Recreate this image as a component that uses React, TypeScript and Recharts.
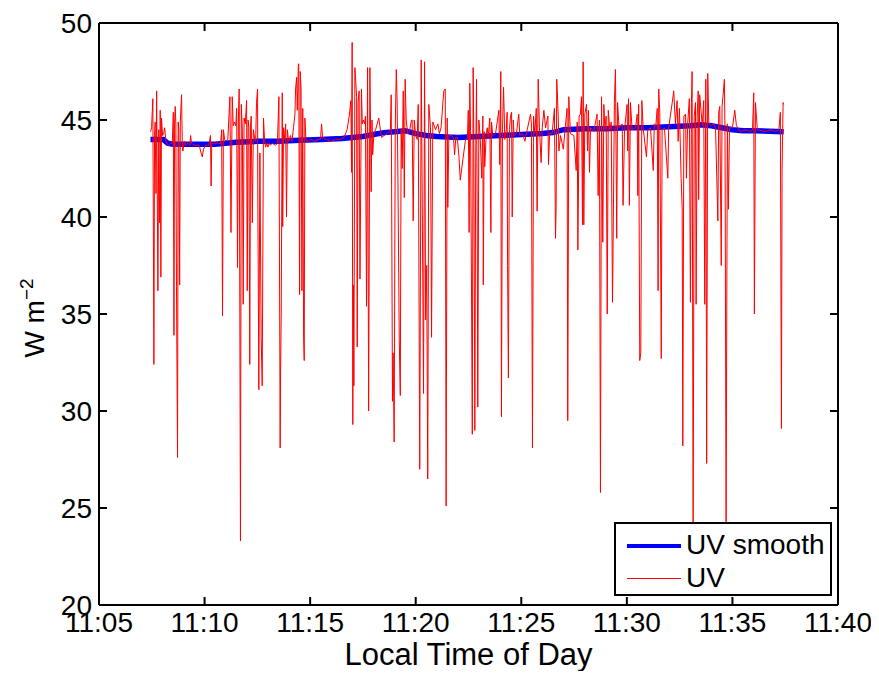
import React from "react";
import { LineChart, Line, XAxis, YAxis } from "recharts";

// Time in minutes after 11:00, value in W m^-2
const uvTime: number[] = [
  7.44, 7.49, 7.55, 7.6, 7.63, 7.66, 7.7, 7.73, 7.76, 7.79, 7.83, 7.87, 7.9, 7.93, 7.96, 8.01, 8.06, 8.11, 8.16, 8.2,
  8.3, 8.39, 8.47, 8.52, 8.55, 8.58, 8.61, 8.64, 8.67, 8.72, 8.75, 8.78, 8.82, 8.85, 8.91, 8.94, 8.97, 9.05, 9.1, 9.2,
  9.3, 9.34, 9.38, 9.5, 9.57, 9.75, 9.81, 9.89, 9.95, 10.05, 10.2, 10.28, 10.31, 10.34, 10.52, 10.65, 10.76, 10.81, 10.85, 10.89,
  10.95, 10.99, 11.1, 11.2, 11.25, 11.31, 11.36, 11.42, 11.48, 11.52, 11.56, 11.6, 11.64, 11.7, 11.74, 11.79, 11.83, 11.87, 11.93, 11.99,
  12.02, 12.06, 12.1, 12.14, 12.18, 12.21, 12.26, 12.31, 12.38, 12.42, 12.46, 12.51, 12.52, 12.57, 12.62, 12.68, 12.73, 12.79, 12.84, 12.89,
  12.95, 13.0, 13.06, 13.12, 13.2, 13.36, 13.45, 13.52, 13.58, 13.6, 13.63, 13.68, 13.7, 13.74, 13.8, 13.84, 13.88, 13.92, 13.98, 14.07,
  14.14, 14.21, 14.28, 14.31, 14.36, 14.39, 14.44, 14.46, 14.5, 14.53, 14.57, 14.61, 14.65, 14.69, 14.72, 14.75, 14.8, 14.84, 14.92, 15.05,
  15.2, 15.4, 15.49, 15.54, 15.59, 15.75, 15.97, 16.2, 16.44, 16.6, 16.75, 16.85, 16.93, 16.96, 16.99, 17.02, 17.05, 17.07, 17.12, 17.16,
  17.2, 17.23, 17.27, 17.32, 17.36, 17.43, 17.47, 17.52, 17.58, 17.62, 17.67, 17.72, 17.77, 17.83, 17.89, 17.93, 17.96, 18.02, 18.1, 18.25,
  18.38, 18.5, 18.65, 18.8, 18.84, 18.9, 18.93, 18.98, 19.03, 19.08, 19.12, 19.16, 19.22, 19.27, 19.31, 19.36, 19.41, 19.46, 19.5, 19.55,
  19.62, 19.7, 19.8, 19.83, 19.88, 19.93, 20.0, 20.07, 20.12, 20.19, 20.26, 20.31, 20.37, 20.42, 20.47, 20.52, 20.57, 20.62, 20.7, 20.75,
  20.81, 20.94, 21.05, 21.12, 21.2, 21.33, 21.4, 21.44, 21.49, 21.52, 21.57, 21.7, 21.79, 21.84, 21.9, 21.97, 22.05, 22.11, 22.25, 22.36,
  22.45, 22.49, 22.53, 22.56, 22.6, 22.68, 22.72, 22.75, 22.8, 22.84, 22.88, 22.91, 22.94, 22.99, 23.05, 23.13, 23.18, 23.2, 23.24, 23.27,
  23.34, 23.39, 23.43, 23.51, 23.56, 23.59, 23.65, 23.78, 23.94, 23.98, 24.03, 24.06, 24.11, 24.16, 24.22, 24.29, 24.33, 24.35, 24.39, 24.44,
  24.49, 24.54, 24.57, 24.62, 24.66, 24.77, 24.88, 24.93, 25.06, 25.17, 25.28, 25.44, 25.48, 25.53, 25.58, 25.64, 25.71, 25.75, 25.8, 25.86,
  25.94, 25.99, 26.07, 26.15, 26.26, 26.29, 26.34, 26.46, 26.57, 26.62, 26.65, 26.68, 26.75, 26.78, 26.86, 26.99, 27.09, 27.17, 27.2, 27.25,
  27.33, 27.49, 27.6, 27.65, 27.68, 27.74, 27.8, 27.85, 27.9, 27.93, 27.96, 28.01, 28.09, 28.14, 28.18, 28.23, 28.28, 28.43, 28.59, 28.64,
  28.7, 28.75, 28.8, 28.86, 28.91, 28.96, 29.02, 29.07, 29.12, 29.19, 29.26, 29.32, 29.35, 29.41, 29.46, 29.52, 29.56, 29.63, 29.78, 29.82,
  29.89, 30.01, 30.04, 30.08, 30.12, 30.17, 30.25, 30.41, 30.49, 30.52, 30.56, 30.61, 30.66, 30.71, 30.77, 30.93, 30.99, 31.12, 31.25, 31.3,
  31.37, 31.44, 31.48, 31.51, 31.56, 31.63, 31.67, 31.78, 31.94, 31.98, 32.15, 32.22, 32.3, 32.38, 32.43, 32.49, 32.57, 32.62, 32.65, 32.7,
  32.78, 32.82, 32.88, 32.96, 33.01, 33.06, 33.09, 33.14, 33.19, 33.25, 33.28, 33.33, 33.38, 33.4, 33.45, 33.52, 33.57, 33.64, 33.69, 33.74,
  33.78, 33.83, 33.88, 33.96, 34.1, 34.2, 34.31, 34.35, 34.4, 34.47, 34.51, 34.56, 34.62, 34.65, 34.7, 34.76, 34.81, 34.86, 35.0, 35.11,
  35.19, 35.38, 35.6, 35.85, 35.95, 36.01, 36.04, 36.09, 36.18, 36.56, 36.8, 37.04, 37.2, 37.27, 37.32, 37.35, 37.4, 37.43,
];

const uvValue: number[] = [
  44.4, 44.6, 46.1, 32.4, 44.2, 44.9, 41.2, 46.5, 41.2, 36.2, 44.5, 39.7, 45.5, 36.9, 45.1, 44.2, 44.3, 44.6, 44.0, 43.8,
  43.7, 43.8, 43.8, 45.4, 33.9, 44.9, 45.7, 44.8, 36.4, 27.6, 44.9, 44.5, 36.5, 44.9, 46.3, 44.0, 43.4, 43.9, 43.7, 43.8,
  43.7, 44.2, 43.8, 43.7, 43.7, 43.7, 43.4, 43.1, 43.5, 43.7, 43.7, 44.2, 41.6, 43.8, 43.8, 43.8, 43.8, 44.5, 34.9, 44.5,
  44.0, 43.9, 44.0, 46.2, 39.2, 46.2, 44.7, 44.9, 44.7, 45.6, 37.4, 45.0, 46.6, 23.3, 45.8, 44.5, 35.5, 45.1, 44.8, 46.0,
  36.2, 45.0, 44.6, 32.4, 44.8, 45.2, 39.7, 44.5, 44.0, 43.9, 45.9, 46.6, 41.6, 31.1, 43.3, 33.8, 31.3, 45.1, 44.0, 43.6,
  43.8, 43.6, 43.8, 43.7, 43.8, 43.7, 43.8, 46.2, 28.1, 32.0, 35.0, 46.4, 39.5, 44.6, 44.0, 44.8, 40.0, 44.5, 43.9, 44.2,
  43.9, 44.6, 45.3, 46.6, 47.2, 45.5, 47.8, 47.9, 36.0, 47.5, 46.6, 36.2, 45.6, 33.8, 32.6, 45.1, 44.0, 43.9, 43.9, 44.0,
  43.9, 44.0, 44.0, 44.8, 44.1, 44.0, 43.9, 44.0, 44.0, 44.1, 44.5, 45.2, 46.0, 42.3, 49.0, 29.3, 36.5, 31.3, 47.7, 47.0,
  46.2, 33.3, 45.9, 46.5, 36.8, 46.6, 44.8, 45.0, 44.8, 45.2, 35.4, 47.7, 30.0, 47.7, 41.3, 45.0, 43.2, 44.3, 44.5, 45.1,
  44.1, 44.2, 44.3, 44.5, 46.3, 30.5, 33.0, 28.4, 44.5, 47.6, 46.0, 41.8, 33.7, 30.8, 44.5, 42.5, 46.5, 41.0, 47.1, 45.0,
  44.3, 44.4, 45.0, 45.0, 39.8, 45.0, 44.2, 44.0, 45.8, 27.0, 48.1, 40.7, 30.9, 48.0, 34.7, 37.5, 26.5, 45.8, 44.6, 33.8,
  44.9, 44.5, 44.8, 44.3, 44.6, 46.5, 46.6, 25.1, 45.1, 40.5, 44.2, 44.2, 44.1, 43.2, 44.1, 44.1, 43.1, 41.9, 43.1, 44.0,
  44.1, 45.5, 39.2, 46.9, 44.4, 28.8, 47.7, 44.2, 29.0, 42.8, 47.1, 40.5, 30.2, 45.0, 44.2, 42.0, 45.2, 36.5, 44.4, 42.6,
  44.3, 44.6, 44.1, 45.1, 39.2, 44.9, 44.2, 44.3, 45.5, 42.7, 47.5, 29.7, 44.5, 46.7, 44.0, 44.5, 45.4, 37.5, 31.7, 44.5,
  45.2, 45.4, 40.0, 45.0, 44.2, 44.3, 45.3, 44.2, 44.3, 43.9, 44.5, 45.3, 44.8, 28.1, 45.2, 44.3, 45.6, 40.3, 47.1, 44.6,
  42.8, 44.6, 45.5, 44.6, 45.2, 42.7, 44.3, 44.3, 45.6, 38.9, 40.5, 47.1, 45.2, 43.4, 44.2, 43.5, 44.7, 45.6, 29.5, 46.2,
  44.3, 44.2, 42.4, 44.9, 38.3, 45.2, 45.3, 46.2, 39.6, 48.0, 39.6, 45.3, 45.8, 43.4, 45.5, 42.3, 44.6, 44.4, 45.3, 41.1,
  45.0, 25.8, 46.2, 38.7, 45.8, 44.5, 45.2, 35.0, 45.5, 44.5, 44.9, 35.6, 38.8, 45.9, 47.6, 38.9, 45.9, 44.6, 44.8, 40.6,
  44.5, 45.8, 43.4, 46.1, 40.6, 45.9, 44.5, 44.6, 45.3, 41.1, 45.8, 32.6, 33.0, 46.0, 44.6, 43.1, 44.5, 44.6, 42.4, 44.8,
  44.7, 45.6, 36.2, 46.6, 45.4, 32.7, 44.5, 44.6, 42.0, 44.6, 45.9, 46.5, 44.8, 46.0, 43.9, 45.6, 42.0, 40.5, 28.2, 45.2,
  45.3, 42.0, 44.8, 46.1, 35.6, 45.9, 47.5, 23.5, 45.2, 45.9, 35.5, 45.2, 46.5, 40.9, 46.3, 45.4, 44.7, 46.0, 35.5, 47.1,
  27.3, 47.4, 44.9, 44.7, 44.8, 44.6, 39.8, 45.4, 45.7, 37.5, 45.7, 46.3, 47.1, 44.0, 24.0, 44.8, 40.4, 44.6, 44.6, 45.5,
  44.7, 44.4, 44.5, 44.4, 44.5, 46.4, 35.0, 45.9, 44.5, 44.4, 44.5, 44.4, 44.5, 45.4, 29.1, 42.3, 45.9, 45.8,
];

const smoothTime: number[] = [
  7.44, 8.05, 8.25, 8.5, 9.5, 10.5, 11.5, 12.5, 13.5, 14.5, 15.5, 16.5, 17.5, 18.0, 18.5, 19.0, 19.5, 20.0, 20.5, 21.0,
  22.0, 23.0, 24.0, 25.0, 26.0, 26.5, 27.0, 28.0, 29.0, 30.0, 31.0, 32.0, 33.0, 33.5, 34.0, 34.5, 35.0, 35.5, 36.0, 37.43,
];
const smoothValue: number[] = [
  44.0, 44.0, 43.8, 43.75, 43.75, 43.75, 43.85, 43.9, 43.9, 43.95, 44.0, 44.05, 44.15, 44.25, 44.35, 44.4, 44.45, 44.3, 44.2, 44.15,
  44.1, 44.15, 44.2, 44.25, 44.3, 44.35, 44.5, 44.55, 44.55, 44.6, 44.6, 44.65, 44.7, 44.75, 44.7, 44.6, 44.5, 44.45, 44.45, 44.4,
];

const xTicks: number[] = [5, 10, 15, 20, 25, 30, 35, 40];
const yTicks: number[] = [20, 25, 30, 35, 40, 45, 50];
const hourLabel = "11";

const uvData = uvTime.map((t, i) => ({ t, v: uvValue[i] }));
const smoothData = smoothTime.map((t, i) => ({ t, v: smoothValue[i] }));

const W = 863;
const H = 663;
const PL = 91;
const PR = 830;
const PT = 15;
const PB = 597;
const TICK = 8;
const FONT = "'Liberation Sans', Arial, Helvetica, sans-serif";
const FS = 28;
const LFS = 31;

const fmtX = (v: number) => `${hourLabel}:${String(v).padStart(2, "0")}`;

const BottomTick = (props: any) => {
  const { x, payload } = props;
  return (
    <g>
      <line x1={x} x2={x} y1={PB} y2={PB - TICK} stroke="#000" strokeWidth={2} />
      <text x={x} y={PB + 27} textAnchor="middle" fontFamily={FONT} fontSize={FS} fill="#000">
        {fmtX(payload.value)}
      </text>
    </g>
  );
};
const TopTick = (props: any) => {
  const { x } = props;
  return <line x1={x} x2={x} y1={PT} y2={PT + TICK} stroke="#000" strokeWidth={2} />;
};
const LeftTick = (props: any) => {
  const { y, payload } = props;
  return (
    <g>
      <line x1={PL} x2={PL + TICK} y1={y} y2={y} stroke="#000" strokeWidth={2} />
      <text x={PL - 7} y={y + 10} textAnchor="end" fontFamily={FONT} fontSize={FS} fill="#000">
        {payload.value}
      </text>
    </g>
  );
};
const RightTick = (props: any) => {
  const { y } = props;
  return <line x1={PR} x2={PR - TICK} y1={y} y2={y} stroke="#000" strokeWidth={2} />;
};

const YLabel = () => (
  <text
    transform={`translate(36, ${(PT + PB) / 2 + 4}) rotate(-90)`}
    textAnchor="middle"
    fontFamily={FONT}
    fontSize={28}
    fill="#000"
  >
    W m<tspan dy={-11} fontSize={19}>−2</tspan>
  </text>
);

const XLabel = () => (
  <text x={(PL + PR) / 2} y={PB + 60} textAnchor="middle" fontFamily={FONT} fontSize={LFS} fill="#000">
    Local Time of Day
  </text>
);

const axisLine = { stroke: "#000", strokeWidth: 2 };

export default function App() {
  return (
    <div style={{ position: "relative", width: W, height: H }}>
      <LineChart width={W} height={H} margin={{ top: 5, right: 3, bottom: 6, left: 31 }}>
        <XAxis
          xAxisId="b"
          dataKey="t"
          type="number"
          domain={[5, 40]}
          ticks={xTicks}
          allowDataOverflow
          height={H - PB - 6}
          tickSize={0}
          tick={<BottomTick />}
          axisLine={axisLine}
          label={<XLabel />}
        />
        <XAxis
          xAxisId="t"
          orientation="top"
          dataKey="t"
          type="number"
          domain={[5, 40]}
          ticks={xTicks}
          allowDataOverflow
          height={PT - 5}
          tickSize={0}
          tick={<TopTick />}
          axisLine={axisLine}
        />
        <YAxis
          yAxisId="l"
          type="number"
          domain={[20, 50]}
          ticks={yTicks}
          allowDataOverflow
          width={PL - 31}
          tickSize={0}
          tick={<LeftTick />}
          axisLine={axisLine}
          label={<YLabel />}
        />
        <YAxis
          yAxisId="r"
          orientation="right"
          type="number"
          domain={[20, 50]}
          ticks={yTicks}
          allowDataOverflow
          width={W - PR - 3}
          tickSize={0}
          tick={<RightTick />}
          axisLine={axisLine}
        />
        <Line
          xAxisId="b"
          yAxisId="l"
          data={smoothData}
          dataKey="v"
          stroke="#0000ff"
          strokeWidth={5.5}
          dot={false}
          isAnimationActive={false}
          name="UV smooth"
        />
        <Line
          xAxisId="b"
          yAxisId="l"
          data={uvData}
          dataKey="v"
          stroke="#ff0000"
          strokeWidth={1}
          dot={false}
          isAnimationActive={false}
          name="UV"
        />
      </LineChart>
      <div
        style={{
          position: "absolute",
          left: 606,
          top: 514,
          width: 218,
          height: 74,
          boxSizing: "border-box",
          border: "2px solid #000",
          background: "#fff",
          fontFamily: FONT,
          fontSize: FS,
          color: "#000",
        }}
      >
        <div style={{ position: "absolute", left: 11, top: 20, width: 54, height: 4, background: "#0000ff" }} />
        <div style={{ position: "absolute", left: 70, top: 6, lineHeight: "30px" }}>UV smooth</div>
        <div style={{ position: "absolute", left: 11, top: 54, width: 54, height: 1, background: "#ff0000" }} />
        <div style={{ position: "absolute", left: 70, top: 39, lineHeight: "30px" }}>UV</div>
      </div>
    </div>
  );
}
